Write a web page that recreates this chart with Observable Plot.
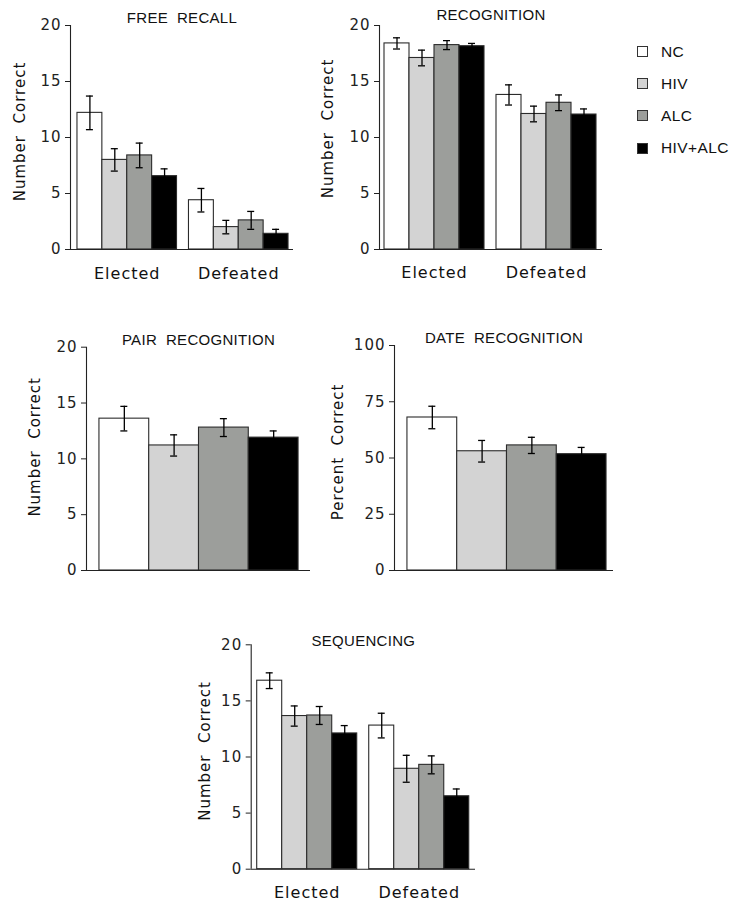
<!DOCTYPE html>
<html><head><meta charset="utf-8">
<script src="https://cdn.jsdelivr.net/npm/d3@7"></script>
<script src="https://cdn.jsdelivr.net/npm/@observablehq/plot@0.6"></script>
<style>
html,body{margin:0;padding:0;background:#fff;}
#chart{position:relative;width:739px;height:904px;overflow:hidden;background:#fff;}
.panel{position:absolute;overflow:visible;}
.panel text{letter-spacing:1px;white-space:pre;}
.panel g[font-family="Liberation Sans"] text{letter-spacing:0.3px;}
.legend-item{position:absolute;display:flex;align-items:center;height:11px;font-family:"Liberation Sans",Arial,sans-serif;font-size:15.5px;letter-spacing:0.4px;color:#111;white-space:nowrap;}
.legend-item .sw{width:11px;height:11px;box-sizing:border-box;border:1px solid #333;margin-right:13px;}
</style>
</head><body><div id="chart"></div>
<script>
// ---- data ----
const groups = ["NC", "HIV", "ALC", "HIV+ALC"];
const groupColors = ["#ffffff", "#d3d3d3", "#9c9e9b", "#000000"];
const categories = ["Elected", "Defeated"];
const numberTicks = [0, 5, 10, 15, 20];
const percentTicks = [0, 25, 50, 75, 100];

// Free recall (Elected NC,HIV,ALC,HIV+ALC then Defeated)
const freeRecallMean = [12.2, 8.0, 8.4, 6.55, 4.4, 2.0, 2.6, 1.4];
const freeRecallErr  = [1.5, 1.0, 1.1, 0.65, 1.05, 0.6, 0.8, 0.4];
// Recognition
const recognitionMean = [18.4, 17.1, 18.25, 18.15, 13.8, 12.1, 13.1, 12.05];
const recognitionErr  = [0.5, 0.7, 0.4, 0.25, 0.9, 0.7, 0.7, 0.5];
// Pair recognition
const pairMean = [13.6, 11.2, 12.8, 11.9];
const pairErr  = [1.1, 0.95, 0.8, 0.6];
// Date recognition (percent)
const dateMean = [68, 53, 55.6, 51.7];
const dateErr  = [5, 4.8, 3.6, 3];
// Sequencing
const seqMean = [16.8, 13.65, 13.7, 12.1, 12.8, 8.95, 9.3, 6.5];
const seqErr  = [0.7, 0.9, 0.8, 0.7, 1.1, 1.2, 0.8, 0.65];

const chart = document.getElementById("chart");
const BAR_GAP = 0.48; // gap between category groups, in bar widths

function panel(cfg) {
  const {title, ylabel, ticks, cats, means, errs, pos} = cfg;
  const rows = [];
  const catRows = [];
  cats.forEach((c, ci) => {
    const base = ci * (groups.length + BAR_GAP);
    catRows.push({cat: c, xc: base + groups.length / 2});
    groups.forEach((g, gi) => {
      const i = ci * groups.length + gi;
      rows.push({cat: c, group: g, x1: base + gi, x2: base + gi + 1, xc: base + gi + 0.5,
        mean: means[i], lo: means[i] - errs[i], hi: means[i] + errs[i]});
    });
  });
  const xEnd = cats.length * (groups.length + BAR_GAP) - BAR_GAP;
  const xDomain = [-pos.padL, xEnd + pos.padR];
  const marks = [
    Plot.rect(rows, {x1: "x1", x2: "x2", y1: 0, y2: "mean", fill: "group", stroke: "#2b2b2b", strokeWidth: 1.1}),
    Plot.ruleX(rows, {x: "xc", y1: "lo", y2: "hi", stroke: "#000", strokeWidth: 1.3}),
    Plot.ruleY(rows, {y: "hi", x1: "xc", x2: "xc", insetLeft: -3.5, insetRight: -3.5, stroke: "#000", strokeWidth: 1.3}),
    Plot.ruleY(rows, {y: "lo", x1: "xc", x2: "xc", insetLeft: -3.5, insetRight: -3.5, stroke: "#000", strokeWidth: 1.3}),
    Plot.ruleY([0], {stroke: "#222", strokeWidth: 1.1}),
    Plot.ruleX([xDomain[0]], {stroke: "#222", strokeWidth: 1.1}),
    Plot.text([title], {frameAnchor: "top", lineAnchor: "middle", dy: pos.titleDy, fontFamily: "Liberation Sans", fontSize: 15, fill: "#111"}),
    Plot.text([ylabel], {frameAnchor: "left", rotate: -90, textAnchor: "middle", lineAnchor: "middle", dx: pos.labelDx, dy: pos.labelDy, fontSize: 15, fill: "#111"})
  ];
  if (cats.length > 1) {
    marks.push(Plot.text(catRows, {x: "xc", y: 0, text: "cat", dy: pos.catDy, lineAnchor: "middle", fontSize: 16, fill: "#111"}));
  }
  const svg = Plot.plot({
    width: pos.width, height: pos.height,
    marginLeft: pos.mL, marginRight: pos.mR, marginTop: pos.mT, marginBottom: pos.mB,
    style: {fontFamily: "DejaVu Sans", fontSize: "15px", color: "#222", background: "transparent", overflow: "visible"},
    x: {type: "linear", domain: xDomain, axis: null},
    y: {domain: [0, ticks[ticks.length - 1]], ticks: ticks, tickSize: 5, tickPadding: 4, tickFormat: d => String(d), label: null},
    color: {domain: groups, range: groupColors},
    marks
  });
  svg.classList.add("panel");
  svg.style.left = pos.left + "px";
  svg.style.top = pos.top + "px";
  chart.appendChild(svg);
}

panel({title: "FREE  RECALL", ylabel: "Number  Correct", ticks: numberTicks, cats: categories,
  means: freeRecallMean, errs: freeRecallErr,
  pos: {left: 0, top: 0, width: 300, height: 290, mL: 70, mR: 7, mT: 25, mB: 41, padL: 0.28, padR: 0.2,
        catDy: 24, titleDy: -7, labelDx: -50, labelDy: -6}});

panel({title: "RECOGNITION", ylabel: "Number  Correct", ticks: numberTicks, cats: categories,
  means: recognitionMean, errs: recognitionErr,
  pos: {left: 300, top: 0, width: 310, height: 290, mL: 79, mR: 8, mT: 25, mB: 41, padL: 0.2, padR: 0.24,
        catDy: 23.5, titleDy: -10, labelDx: -51, labelDy: -9}});

panel({title: "PAIR  RECOGNITION", ylabel: "Number  Correct", ticks: numberTicks, cats: ["All"],
  means: pairMean, errs: pairErr,
  pos: {left: 0, top: 310, width: 320, height: 280, mL: 86, mR: 10, mT: 36.7, mB: 20, padL: 0.26, padR: 0.24,
        catDy: 0, titleDy: -6.7, labelDx: -51, labelDy: -12}});

panel({title: "DATE  RECOGNITION", ylabel: "Percent  Correct", ticks: percentTicks, cats: ["All"],
  means: dateMean, errs: dateErr,
  pos: {left: 310, top: 310, width: 310, height: 280, mL: 84, mR: 7, mT: 35, mB: 20, padL: 0.26, padR: 0.14,
        catDy: 0, titleDy: -7.5, labelDx: -56, labelDy: -6}});

panel({title: "SEQUENCING", ylabel: "Number  Correct", ticks: numberTicks, cats: categories,
  means: seqMean, errs: seqErr,
  pos: {left: 180, top: 590, width: 320, height: 314, mL: 70.7, mR: 25, mT: 54.3, mB: 35.3, padL: 0.24, padR: 0.25,
        catDy: 23.3, titleDy: -3.5, labelDx: -46, labelDy: -6}});

// legend
groups.forEach((g, i) => {
  const item = document.createElement("div");
  item.className = "legend-item";
  item.style.left = "637px";
  item.style.top = (46 + i * 32.2) + "px";
  const sw = document.createElement("span");
  sw.className = "sw";
  sw.style.background = groupColors[i];
  const label = document.createElement("span");
  label.textContent = g;
  item.appendChild(sw);
  item.appendChild(label);
  chart.appendChild(item);
});
</script>
</body></html>
